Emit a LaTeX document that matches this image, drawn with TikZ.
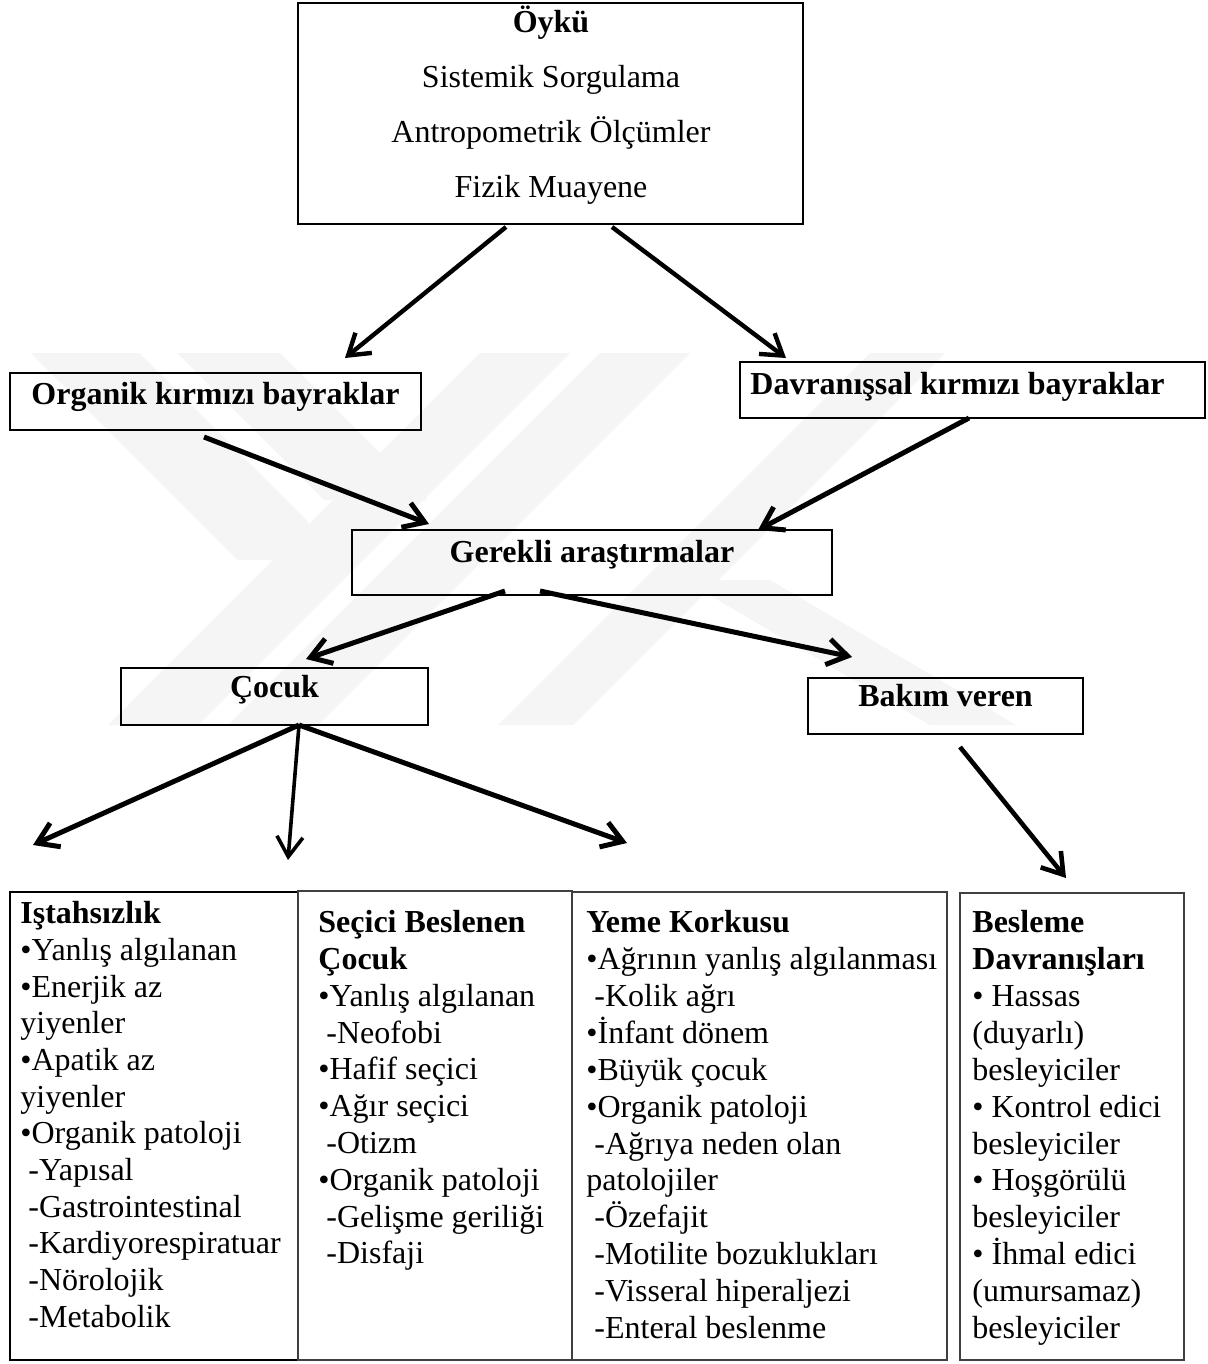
\documentclass[tikz,border=0pt]{standalone}
\usepackage{fontspec}
\setmainfont{Liberation Serif}
\usetikzlibrary{arrows.meta,fit}
\begin{document}
\begin{tikzpicture}[x=0.5pt,y=-0.5pt,
  every node/.style={font=\fontsize{16}{18.45}\selectfont},
  box/.style={draw=black, line width=1pt, inner sep=0pt},
  lbox/.style={draw=black!75, line width=0.8pt, inner sep=0pt},
  tx/.style={inner sep=0pt, text height=10.6pt, text depth=0pt},
  ttl/.style={tx, font=\fontsize{16}{18.45}\selectfont\bfseries},
  arr/.style={line width=2.5pt, -{Straight Barb[length=10pt,width=13pt]}},
  wm/.style={fill=black!4},
]
\fill[white] (0,0) rectangle (1208,1364);
\useasboundingbox (0,0) rectangle (1208,1364);

% faint watermark
\fill[wm] (480,353) -- (570,353) -- (198,725) -- (108,725) -- cycle;
\fill[wm] (600,353) -- (690,353) -- (318,725) -- (228,725) -- cycle;
\fill[wm] (870,353) -- (945,353) -- (573,725) -- (498,725) -- cycle;
\fill[wm] (31,353) -- (139,353) -- (346,560) -- (238,560) -- cycle;
\fill[wm] (177,353) -- (280,353) -- (427,500) -- (324,500) -- cycle;
\fill[wm] (684,580) -- (770,580) -- (1016,725) -- (930,725) -- cycle;

% boxes
\node[box, fit={(298,3) (803,224)}] (oyku) {};
\node[box, fit={(10,373) (421,430)}] (org) {};
\node[box, fit={(740,362) (1205,418)}] (dav) {};
\node[box, fit={(352,530) (832,595)}] (ger) {};
\node[box, fit={(121,668) (428,725)}] (coc) {};
\node[box, fit={(808,678) (1083,734)}] (bak) {};
\node[box, fit={(10,892) (298,1360)}] (b1) {};
\node[lbox, fit={(298,891) (572,1360)}] (b2) {};
\node[lbox, fit={(572,892) (947,1360)}] (b3) {};
\node[lbox, fit={(960,893) (1184,1360)}] (b4) {};

% top texts
\node[ttl] (oyku-t) at (551,22) {Öykü};
\node[tx] (oyku-a) at (551,77) {Sistemik Sorgulama};
\node[tx] (oyku-b) at (551,132) {Antropometrik Ölçümler};
\node[tx] (oyku-c) at (551,187) {Fizik Muayene};
\node[ttl] (org-t) at (215.5,394) {Organik kırmızı bayraklar};
\node[ttl, anchor=west] (dav-t) at (750,384) {Davranışsal kırmızı bayraklar};
\node[ttl] (ger-t) at (592,552) {Gerekli araştırmalar};
\node[ttl] (coc-t) at (274.5,687) {Çocuk};
\node[ttl] (bak-t) at (945.5,696) {Bakım veren};

% bottom texts
\foreach \t [count=\i from 0] in {{\textbf{Iştahsızlık}},•Yanlış algılanan,•Enerjik az,yiyenler,•Apatik az,yiyenler,•Organik patoloji,{\hspace*{.25em}-Yapısal},{\hspace*{.25em}-Gastrointestinal},{\hspace*{.25em}-Kardiyorespiratuar},{\hspace*{.25em}-Nörolojik},{\hspace*{.25em}-Metabolik}}
  \node[tx, anchor=west] (t1-\i) at (20,{913+36.7*\i}) {\t};
\foreach \t [count=\i from 0] in {{\textbf{Seçici Beslenen}},{\textbf{Çocuk}},•Yanlış algılanan,{\hspace*{.25em}-Neofobi},•Hafif seçici,•Ağır seçici,{\hspace*{.25em}-Otizm},•Organik patoloji,{\hspace*{.25em}-Gelişme geriliği},{\hspace*{.25em}-Disfaji}}
  \node[tx, anchor=west] (t2-\i) at (318,{922+36.8*\i}) {\t};
\foreach \t [count=\i from 0] in {{\textbf{Yeme Korkusu}},•Ağrının yanlış algılanması,{\hspace*{.25em}-Kolik ağrı},•İnfant dönem,•Büyük çocuk,•Organik patoloji,{\hspace*{.25em}-Ağrıya neden olan},patolojiler,{\hspace*{.25em}-Özefajit},{\hspace*{.25em}-Motilite bozuklukları},{\hspace*{.25em}-Visseral hiperaljezi},{\hspace*{.25em}-Enteral beslenme}}
  \node[tx, anchor=west] (t3-\i) at (586,{922+36.9*\i}) {\t};
\foreach \t [count=\i from 0] in {{\textbf{Besleme}},{\textbf{Davranışları}},• Hassas,(duyarlı),besleyiciler,• Kontrol edici,besleyiciler,• Hoşgörülü,besleyiciler,• İhmal edici,(umursamaz),besleyiciler}
  \node[tx, anchor=west] (t4-\i) at (972,{922+36.9*\i}) {\t};

% connector end points
\coordinate (a1s) at (506,227); \coordinate (a1e) at (345,358);
\coordinate (a2s) at (612,227); \coordinate (a2e) at (786,358);
\coordinate (a3s) at (204,437); \coordinate (a3e) at (429,524);
\coordinate (a4s) at (969,418); \coordinate (a4e) at (758,530);
\coordinate (a5s) at (505,591); \coordinate (a5e) at (306,659);
\coordinate (a6s) at (540,591); \coordinate (a6e) at (852,657);
\coordinate (a7s) at (299,725);
\coordinate (a7l) at (33,845); \coordinate (a7m) at (288,860); \coordinate (a7r) at (627,843);
\coordinate (a8s) at (960,747); \coordinate (a8e) at (1066,878);

\draw[arr, line width=2.2pt] (a1s) -- (a1e);
\draw[arr, line width=2.2pt] (a2s) -- (a2e);
\draw[arr] (a3s) -- (a3e);
\draw[arr] (a4s) -- (a4e);
\draw[arr] (a5s) -- (a5e);
\draw[arr] (a6s) -- (a6e);
\draw[arr] (a7s) -- (a7l);
\draw[arr, line width=1.8pt] (a7s) -- (a7m);
\draw[arr] (a7s) -- (a7r);
\draw[arr, line width=2.3pt] (a8s) -- (a8e);
\end{tikzpicture}
\end{document}
